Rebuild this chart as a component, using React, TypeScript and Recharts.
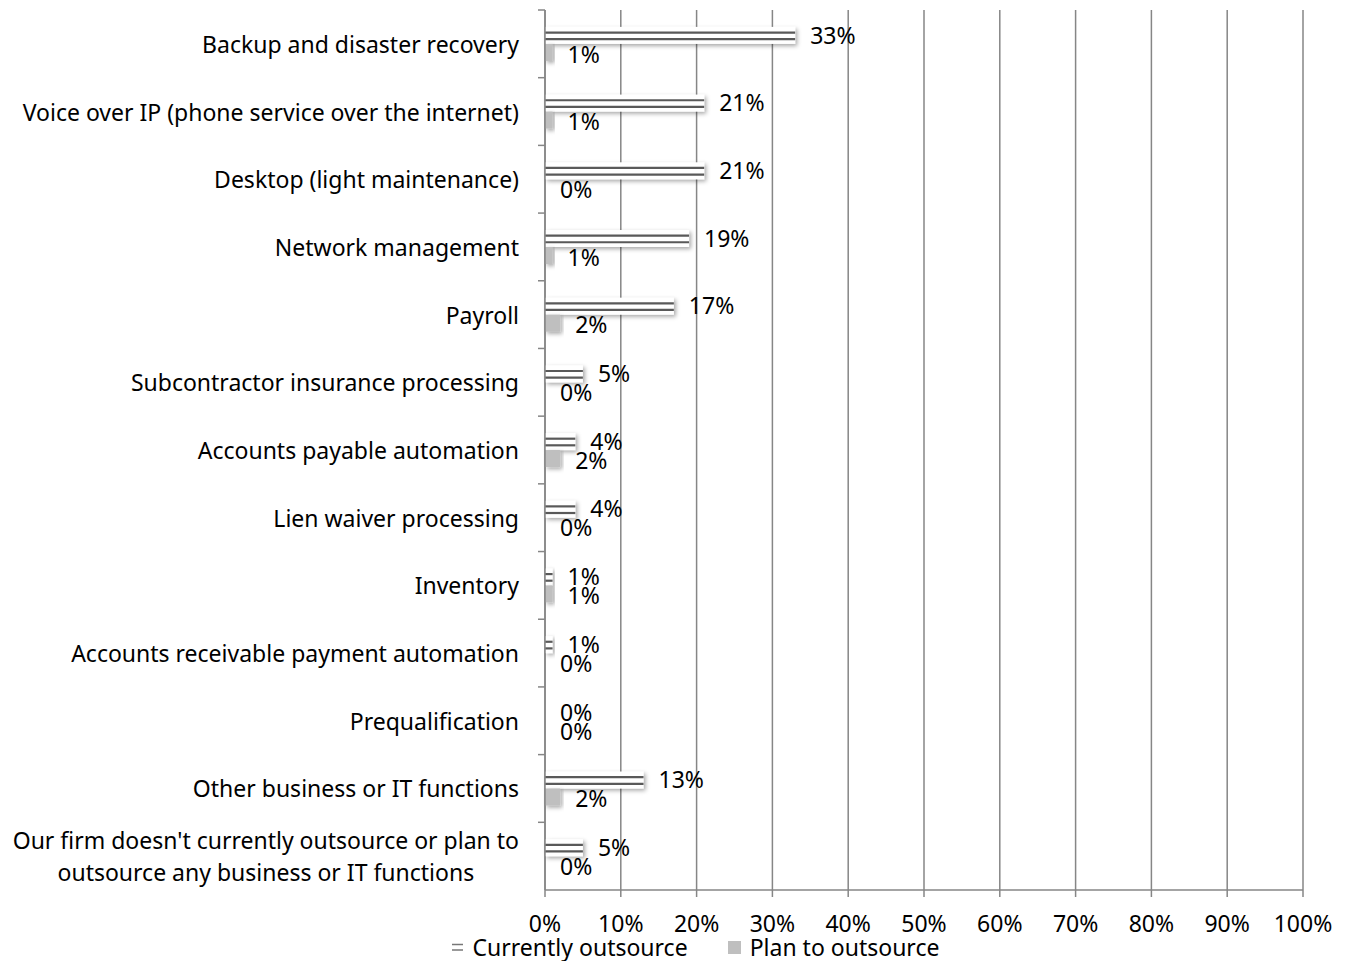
import React from 'react'
import { BarChart, Bar, XAxis, YAxis, CartesianGrid, LabelList, Legend } from 'recharts'

const categories = [
  'Backup and disaster recovery',
  'Voice over IP (phone service over the internet)',
  'Desktop (light maintenance)',
  'Network management',
  'Payroll',
  'Subcontractor insurance processing',
  'Accounts payable automation',
  'Lien waiver processing',
  'Inventory',
  'Accounts receivable payment automation',
  'Prequalification',
  'Other business or IT functions',
  "Our firm doesn't currently outsource or plan to\noutsource any business or IT functions",
]
const currentValues = [33, 21, 21, 19, 17, 5, 4, 4, 1, 1, 0, 13, 5]
const planValues = [1, 1, 0, 1, 2, 0, 2, 0, 1, 0, 0, 2, 0]
const xTicks = [0, 10, 20, 30, 40, 50, 60, 70, 80, 90, 100]

const chartData = categories.map((name, i) => ({
  name,
  current: currentValues[i],
  plan: planValues[i],
}))

const FONT = '"Noto Sans", "Open Sans", sans-serif'
const FONT_SIZE = 23
const AXIS_GRAY = '#868686'
const PLOT_TOP = 10
const PLOT_BOTTOM = 890
const BAND = (PLOT_BOTTOM - PLOT_TOP) / categories.length

let ctx: CanvasRenderingContext2D | null = null
function measure(text: string): number {
  if (!ctx) ctx = document.createElement('canvas').getContext('2d')
  if (!ctx) return text.length * 10
  ctx.font = `${FONT_SIZE}px ${FONT}`
  return ctx.measureText(text).width
}

function CategoryTick(props: any) {
  const { x, y, payload } = props
  const lines: string[] = String(payload.value).split('\n')
  const axisX = x + 26
  const top = y - BAND / 2
  if (lines.length === 1) {
    return (
      <g>
        <line x1={axisX - 7} x2={axisX} y1={top} y2={top} stroke={AXIS_GRAY} strokeWidth={1.5} />
        <text x={x} y={y} textAnchor="end" dominantBaseline="central" fontSize={FONT_SIZE} fontFamily={FONT} fill="#000">
          {lines[0]}
        </text>
      </g>
    )
  }
  const w = Math.max(...lines.map(measure))
  const cx = x - w / 2
  const lh = 32
  const start = y - ((lines.length - 1) * lh) / 2
  return (
    <g>
      <line x1={axisX - 7} x2={axisX} y1={top} y2={top} stroke={AXIS_GRAY} strokeWidth={1.5} />
      <text textAnchor="middle" fontSize={FONT_SIZE} fontFamily={FONT} fill="#000">
        {lines.map((l, i) => (
          <tspan key={i} x={cx} y={start + i * lh} dominantBaseline="central">
            {l}
          </tspan>
        ))}
      </text>
    </g>
  )
}

function CurrentShape(props: any) {
  const { x, y, width, height } = props
  if (!width || width <= 0) return null
  return (
    <g>
      <rect x={x} y={y} width={width} height={height} fill="#fff" filter="url(#barShadow)" />
      <line x1={x} x2={x + width} y1={y + height * 0.33} y2={y + height * 0.33} stroke="#595959" strokeWidth={2.2} />
      <line x1={x} x2={x + width} y1={y + height * 0.72} y2={y + height * 0.72} stroke="#595959" strokeWidth={2.2} />
    </g>
  )
}

function PlanShape(props: any) {
  const { x, y, width, height } = props
  if (!width || width <= 0) return null
  return <rect x={x} y={y} width={width} height={height} fill="#bfbfbf" filter="url(#barShadow)" />
}

function LegendContent() {
  return (
    <div
      style={{
        display: 'flex',
        justifyContent: 'center',
        alignItems: 'center',
        gap: 40,
        fontFamily: FONT,
        fontSize: FONT_SIZE,
        color: '#000',
        paddingLeft: 88,
        lineHeight: '24px',
        height: 24,
      }}
    >
      <span style={{ display: 'flex', alignItems: 'center', gap: 10 }}>
        <svg width={11} height={12}>
          <rect x={0} y={0} width={11} height={12} fill="#fff" />
          <line x1={0} x2={11} y1={3.5} y2={3.5} stroke="#777" strokeWidth={1.5} />
          <line x1={0} x2={11} y1={9} y2={9} stroke="#777" strokeWidth={1.5} />
        </svg>
        Currently outsource
      </span>
      <span style={{ display: 'flex', alignItems: 'center', gap: 9 }}>
        <svg width={13} height={13}>
          <rect x={0} y={0} width={13} height={13} fill="#bfbfbf" />
        </svg>
        Plan to outsource
      </span>
    </div>
  )
}

export default function App(): JSX.Element {
  return (
    <div style={{ position: 'absolute', left: 0, top: 0, background: '#fff' }}>
      <svg width={0} height={0} style={{ position: 'absolute' }}>
        <defs>
          <filter id="barShadow" x="-10%" y="-30%" width="130%" height="180%">
            <feDropShadow dx={2} dy={2} stdDeviation={2} floodColor="#000" floodOpacity={0.35} />
          </filter>
        </defs>
      </svg>
      <BarChart
        width={1351}
        height={961}
        data={chartData}
        layout="vertical"
        margin={{ top: PLOT_TOP, right: 48, bottom: 0, left: 0 }}
        barCategoryGap="25%"
        barGap={0}
      >
        <CartesianGrid horizontal={false} stroke={AXIS_GRAY} strokeWidth={1.5} />
        <XAxis
          type="number"
          domain={[0, 100]}
          ticks={xTicks}
          tickFormatter={(v: number) => `${v}%`}
          axisLine={{ stroke: AXIS_GRAY, strokeWidth: 1.5 }}
          tickLine={{ stroke: AXIS_GRAY, strokeWidth: 1.5 }}
          tickSize={7}
          tickMargin={19}
          height={45}
          tick={{ fontSize: FONT_SIZE, fontFamily: FONT, fill: '#000' }}
          interval={0}
        />
        <YAxis
          type="category"
          dataKey="name"
          width={545}
          axisLine={{ stroke: AXIS_GRAY, strokeWidth: 1.5 }}
          tickLine={false}
          tickSize={0}
          tickMargin={26}
          tick={<CategoryTick />}
          interval={0}
        />
        <Legend verticalAlign="bottom" height={26} content={<LegendContent />} />
        <Bar dataKey="current" name="Currently outsource" shape={<CurrentShape />} isAnimationActive={false}>
          <LabelList
            dataKey="current"
            position="right"
            offset={15}
            formatter={(v: any) => `${v}%`}
            style={{ fontSize: FONT_SIZE, fontFamily: FONT, fill: '#000' }}
          />
        </Bar>
        <Bar dataKey="plan" name="Plan to outsource" shape={<PlanShape />} isAnimationActive={false}>
          <LabelList
            dataKey="plan"
            position="right"
            offset={15}
            dy={2}
            formatter={(v: any) => `${v}%`}
            style={{ fontSize: FONT_SIZE, fontFamily: FONT, fill: '#000' }}
          />
        </Bar>
      </BarChart>
    </div>
  )
}
